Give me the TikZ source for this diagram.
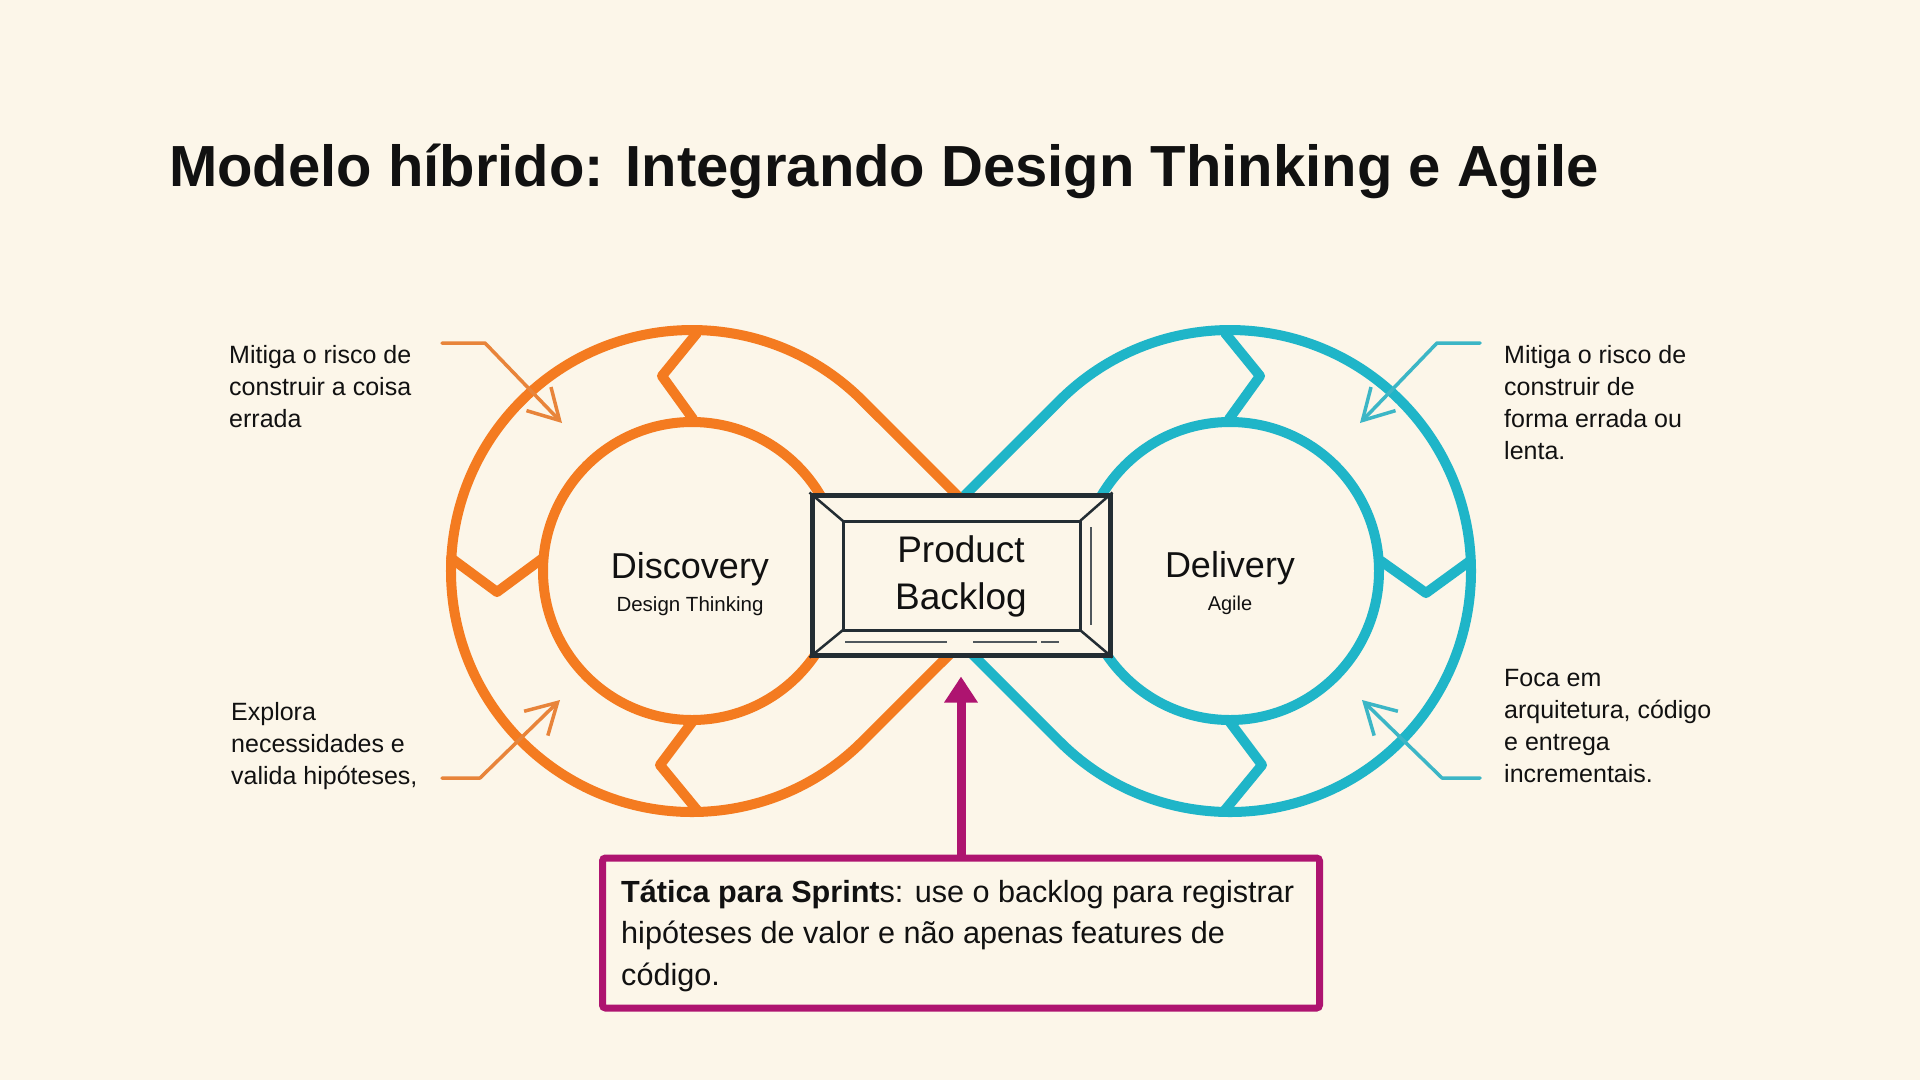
\documentclass[tikz,border=0pt]{standalone}
\usepackage{fontspec}
\setmainfont{Liberation Sans}
\usetikzlibrary{arrows.meta}
\definecolor{bg}{HTML}{FCF6E9}
\definecolor{orng}{HTML}{F47B20}
\definecolor{tealc}{HTML}{1FB5C8}
\definecolor{orngthin}{HTML}{E8843A}
\definecolor{tealthin}{HTML}{3CB6C6}
\definecolor{boxdark}{HTML}{232D33}
\definecolor{mag}{HTML}{AE1470}
\definecolor{ink}{HTML}{111111}
\begin{document}
\begin{tikzpicture}[x=1pt,y=-1pt,
  ring/.style={line width=10pt, line join=round},
  chev/.style={line width=10pt, line join=round, line cap=round},
  thinarrow/.style={line width=3.5pt, line cap=round, line join=round, -{Straight Barb[length=30pt,width=34pt]}},
  side/.style={anchor=base west, align=left, inner sep=0pt, text=ink, font=\fontsize{25}{32}\selectfont},
  bigtxt/.style={anchor=base, inner sep=0pt, text=ink},
  bevel/.style={boxdark, line width=2.5pt}
]
\useasboundingbox (0,0) rectangle (1920,1080);
\fill[bg] (0,0) rectangle (1920,1080);

% title
\node[anchor=base west, inner sep=0pt, text=ink, font=\fontsize{58}{70}\selectfont\bfseries] (title) at (169,186) {Modelo híbrido: Integrando Design Thinking e Agile};

% loops
\draw[ring, tealc] (889,571) -- (1059.6,400.6) arc[start angle=-135, end angle=135, radius=241] -- cycle;
\draw[ring, tealc] (1230,571) circle[radius=149];
\draw[ring, orng] (1033,571) -- (862.4,400.6) arc[start angle=-45, end angle=-315, radius=241] -- cycle;
\draw[ring, orng] (692,571) circle[radius=149];

% chevrons
\draw[chev, orng] (697,333) -- (662,376) -- (693,419);
\draw[chev, orng] (451,558) -- (497,592) -- (543,558);
\draw[chev, orng] (697,810) -- (660,765) -- (693,721);
\draw[chev, tealc] (1225,333) -- (1260,376) -- (1229,419);
\draw[chev, tealc] (1470,561) -- (1426,593) -- (1381,561);
\draw[chev, tealc] (1225,810) -- (1262,765) -- (1229,721);

% product backlog box
\node[draw=boxdark, fill=bg, line width=5pt, minimum width=298pt, minimum height=160pt, inner sep=0pt] (pb) at (961,575) {};
\draw[boxdark, line width=3pt] (843,521) rectangle (1080,630);
\draw[bevel] (pb.north west) -- (843,521);
\draw[bevel] (pb.north east) -- (1080,521);
\draw[bevel] (pb.south west) -- (843,630);
\draw[bevel] (pb.south east) -- (1080,630);
\draw[boxdark!80, line width=2pt] (1091,527) -- (1091,625);
\draw[boxdark!80, line width=2pt] (845,642) -- (947,642) (973,642) -- (1037,642) (1041,642) -- (1059,642);
\node[bigtxt, font=\fontsize{37}{47}\selectfont] (pbt1) at (961,562) {Product};
\node[bigtxt, font=\fontsize{37}{47}\selectfont] (pbt2) at (961,609) {Backlog};

% loop labels
\node[bigtxt, font=\fontsize{36}{40}\selectfont] (disc) at (690,578) {Discovery};
\node[bigtxt, font=\fontsize{20.5}{24}\selectfont] (dt) at (690,611) {Design Thinking};
\node[bigtxt, font=\fontsize{36}{40}\selectfont] (deliv) at (1230,577) {Delivery};
\node[bigtxt, font=\fontsize{20}{24}\selectfont] (agile) at (1230,610) {Agile};

% side texts (anchored at the baseline of their last line)
\node[side] (lt) at (229,427) {Mitiga o risco de\\construir a coisa\\errada};
\node[side] (lb) at (231,784) {Explora\\necessidades e\\valida hipóteses,};
\node[side] (rt) at (1504,459) {Mitiga o risco de\\construir de\\forma errada ou\\lenta.};
\node[side] (rb) at (1504,782) {Foca em\\arquitetura, código\\e entrega\\incrementais.};

% thin arrows
\coordinate (a1s) at (442,343); \coordinate (a1c) at (485,343); \coordinate (a1t) at (562,423);
\coordinate (a2s) at (442,778); \coordinate (a2c) at (480,778); \coordinate (a2t) at (560,700);
\coordinate (a3s) at (1480,343); \coordinate (a3c) at (1437,343); \coordinate (a3t) at (1360,423);
\coordinate (a4s) at (1480,778); \coordinate (a4c) at (1442,778); \coordinate (a4t) at (1362,700);
\draw[thinarrow, orngthin] (a1s) -- (a1c) -- (a1t);
\draw[thinarrow, orngthin] (a2s) -- (a2c) -- (a2t);
\draw[thinarrow, tealthin] (a3s) -- (a3c) -- (a3t);
\draw[thinarrow, tealthin] (a4s) -- (a4c) -- (a4t);

% tactic box
\node[draw=mag, fill=bg, line width=7pt, rounded corners=3pt, minimum width=717pt, minimum height=150pt, inner sep=0pt] (tatica) at (961,933) {};
\node[anchor=base west, align=left, inner sep=0pt, text=ink, font=\fontsize{30.6}{41.5}\selectfont] (tatxt) at (621,985) {\textbf{Tática para Sprint}s: use o backlog para registrar\\hipóteses de valor e não apenas features de\\código.};
\draw[mag, line width=9pt, -{Triangle[length=26pt,width=32pt]}, shorten >=19pt] (tatica.north) -- (pb.south);
\end{tikzpicture}
\end{document}
